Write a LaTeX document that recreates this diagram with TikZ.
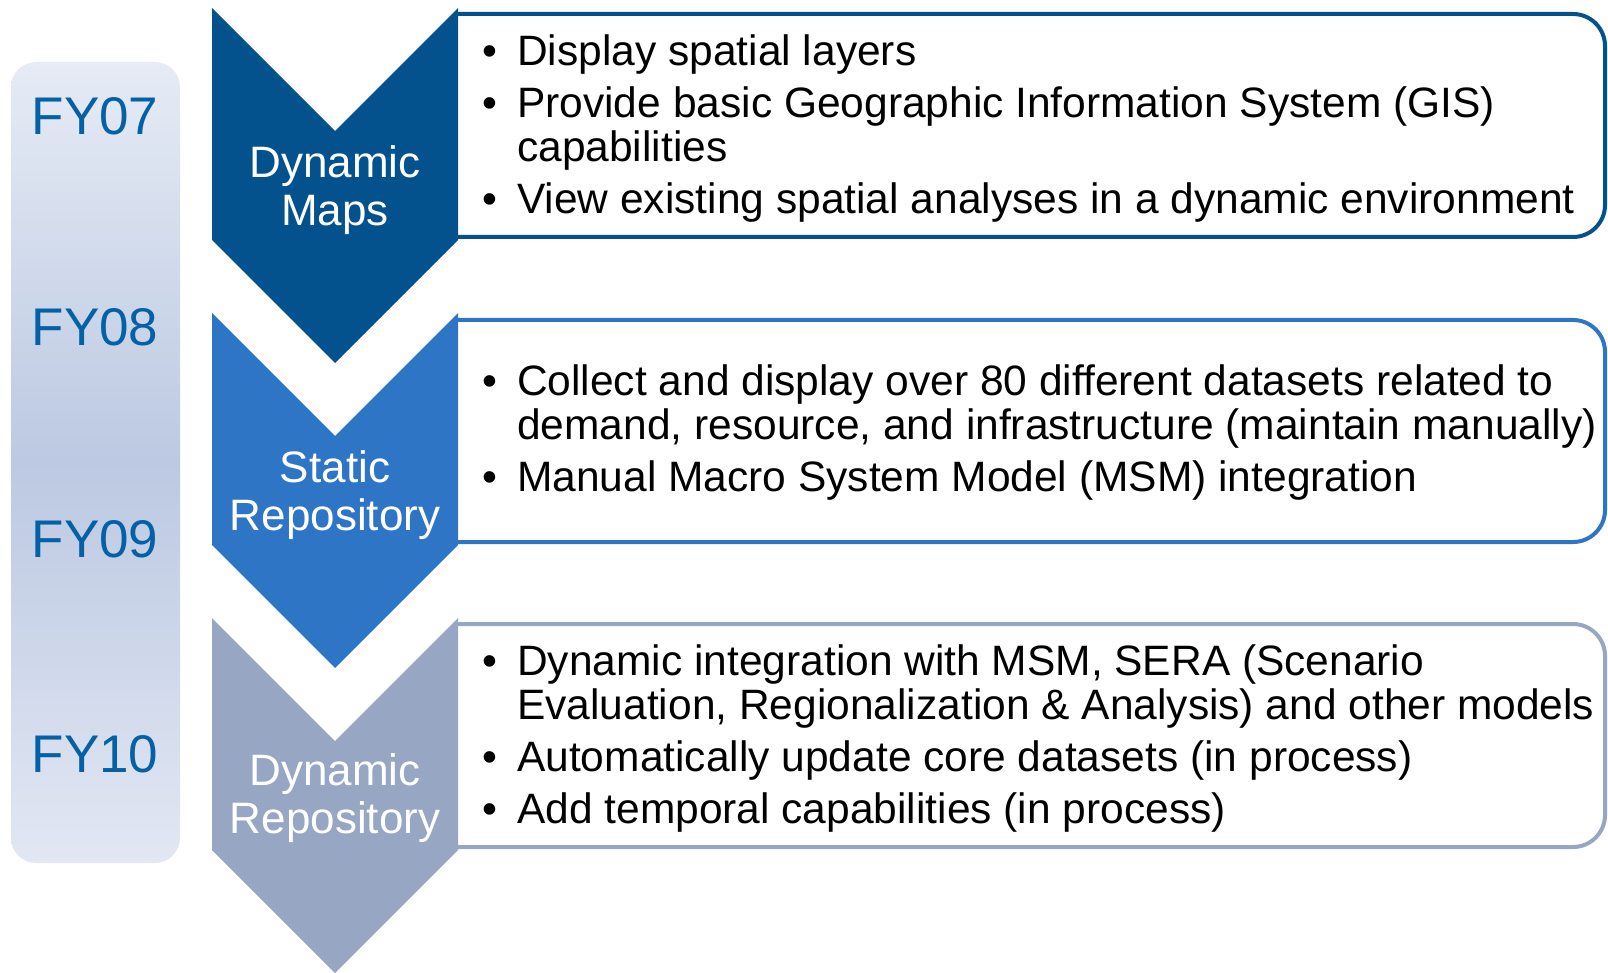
\documentclass[tikz,border=0pt]{standalone}
\usepackage{fontspec}
\setmainfont{Liberation Sans}
\definecolor{mapsblue}{HTML}{03528E}
\definecolor{staticblue}{HTML}{2E75C6}
\definecolor{dynblue}{HTML}{97A6C3}
\definecolor{fyblue}{HTML}{0561A6}
\definecolor{bartop}{RGB}{230,235,245}
\definecolor{barmid}{RGB}{188,201,226}
\definecolor{barbot}{RGB}{226,231,243}
% one bullet point, wrapped lines hang under the text
\newcommand\bul[1]{\par\hangindent=35pt\hangafter=1\noindent\makebox[35pt][l]{\textbullet}#1}
\begin{document}
\begin{tikzpicture}[x=1pt, y=-1pt,
  fy/.style={anchor=base, text=fyblue, font=\fontsize{53}{60}\selectfont},
  chev/.style={text=white, align=center, inner sep=0pt, font=\fontsize{44}{48}\selectfont},
  items/.style={anchor=base west, inner sep=0pt},
  frame/.style={line width=4pt, rounded corners=32pt}]
  \useasboundingbox (0,0) rectangle (1608,973);

  % year bar
  \shade[rounded corners=25pt, top color=bartop, bottom color=barbot, middle color=barmid]
    (11,62) rectangle (180,863);
  \node[fy] (fy07) at (95,135) {FY07};
  \node[fy] (fy08) at (95,345) {FY08};
  \node[fy] (fy09) at (95,557) {FY09};
  \node[fy] (fy10) at (95,772) {FY10};

  % frames behind the arrows
  \draw[frame, mapsblue] (458,14) -- (1605,14) -- (1605,237) -- (458,237);
  \draw[frame, staticblue] (458,320) -- (1605,320) -- (1605,542) -- (458,542);
  \draw[frame, dynblue] (458,624) -- (1605,624) -- (1605,847) -- (458,847);

  % chevrons
  \fill[mapsblue] (212,8) -- (335,131) -- (458,8) -- (458,240) -- (335,363) -- (212,240) -- cycle;
  \fill[staticblue] (212,313) -- (335,436) -- (458,313) -- (458,545) -- (335,668) -- (212,545) -- cycle;
  \fill[dynblue] (212,618) -- (335,741) -- (458,618) -- (458,850) -- (335,973) -- (212,850) -- cycle;

  \node[chev] (maps) at (335,190) {Dynamic\\Maps};
  \node[chev] (srep) at (335,495) {Static\\Repository};
  \node[chev] (drep) at (335,798) {Dynamic\\Repository};

  % bullet lists
  \node[items] (l1) at (482,66) {\begin{minipage}[t]{1200pt}\fontsize{42.5}{44}\selectfont\raggedright\setlength\parskip{8pt}
    \bul{Display spatial layers}
    \bul{Provide basic Geographic Information System (GIS)\newline capabilities}
    \bul{View existing spatial analyses in a dynamic environment}
  \end{minipage}};
  \node[items] (l2) at (482,395) {\begin{minipage}[t]{1200pt}\fontsize{42.5}{44}\selectfont\raggedright\setlength\parskip{8pt}
    \bul{Collect and display over 80 different datasets related to\newline demand, resource, and infrastructure (maintain manually)}
    \bul{Manual Macro System Model (MSM) integration}
  \end{minipage}};
  \node[items] (l3) at (482,675) {\begin{minipage}[t]{1200pt}\fontsize{42.5}{44}\selectfont\raggedright\setlength\parskip{8pt}
    \bul{Dynamic integration with MSM, SERA (Scenario\newline Evaluation, Regionalization \& Analysis) and other models}
    \bul{Automatically update core datasets (in process)}
    \bul{Add temporal capabilities (in process)}
  \end{minipage}};
\end{tikzpicture}
\end{document}
